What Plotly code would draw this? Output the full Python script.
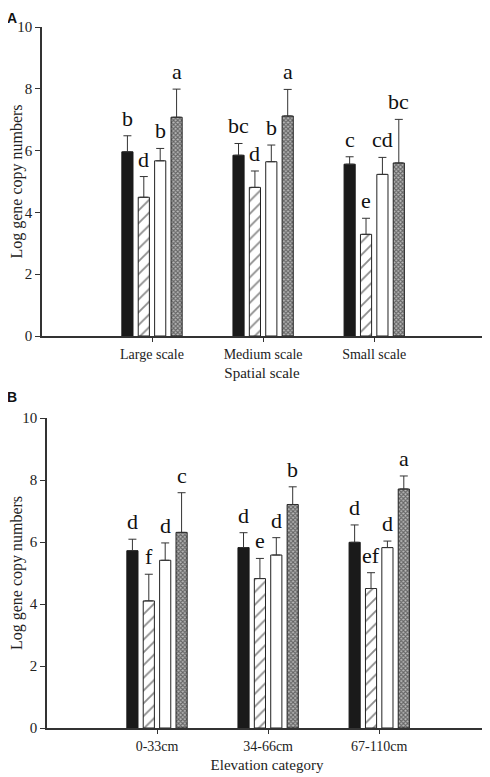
import plotly.graph_objects as go

# ---------------- data ----------------
scale_cats = ["Large scale", "Medium scale", "Small scale"]
elev_cats = ["0-33cm", "34-66cm", "67-110cm"]

# Panel A (spatial scale): four series (black, hatched, white, checked)
a_black = [5.96, 5.85, 5.56]
a_hatch = [4.49, 4.81, 3.29]
a_white = [5.67, 5.64, 5.23]
a_check = [7.08, 7.12, 5.60]
a_black_err = [0.52, 0.38, 0.24]
a_hatch_err = [0.67, 0.53, 0.52]
a_white_err = [0.40, 0.54, 0.55]
a_check_err = [0.91, 0.86, 1.41]
a_black_lab = ["b", "bc", "c"]
a_hatch_lab = ["d", "d", "e"]
a_white_lab = ["b", "b", "cd"]
a_check_lab = ["a", "a", "bc"]

# Panel B (elevation category)
b_black = [5.72, 5.82, 5.99]
b_hatch = [4.10, 4.82, 4.50]
b_white = [5.41, 5.58, 5.82]
b_check = [6.31, 7.21, 7.71]
b_black_err = [0.37, 0.48, 0.56]
b_hatch_err = [0.86, 0.65, 0.51]
b_white_err = [0.56, 0.56, 0.21]
b_check_err = [1.28, 0.57, 0.42]
b_black_lab = ["d", "d", "d"]
b_hatch_lab = ["f", "e", "ef"]
b_white_lab = ["d", "d", "d"]
b_check_lab = ["c", "b", "a"]

y_ticks = [0, 2, 4, 6, 8, 10]

# ---------------- styling ----------------
SERIF = "Liberation Serif"
styles = [
    dict(color="#1a1a1a", line=dict(color="#1a1a1a", width=1)),
    dict(color="white", line=dict(color="#222", width=1),
         pattern=dict(shape="/", fgcolor="#1a1a1a", bgcolor="white", size=9, solidity=0.2)),
    dict(color="white", line=dict(color="#222", width=1)),
    dict(color="white", line=dict(color="#222", width=1),
         pattern=dict(shape="x", fgcolor="#111", bgcolor="#b8b8b8", size=3, solidity=0.6)),
]

fig = go.Figure()

slot = 0.59 / 4
offsets = [(-1.5 + i) * slot for i in range(4)]


def add_panel(cats, series, errs, labels, xa, ya):
    for i, (vals, err, lab) in enumerate(zip(series, errs, labels)):
        fig.add_trace(go.Bar(
            x=cats, y=vals, xaxis=xa, yaxis=ya, showlegend=False,
            marker=styles[i],
            error_y=dict(type="data", array=err, arrayminus=[0] * len(err),
                         symmetric=False, color="#333", thickness=1, width=4),
        ))
        for j in range(len(cats)):
            fig.add_annotation(
                x=j + offsets[i], y=vals[j] + err[j], xref=xa, yref=ya,
                text=lab[j], showarrow=False, yanchor="bottom", yshift=3,
                font=dict(family=SERIF, size=22, color="#111"),
            )


add_panel(scale_cats, [a_black, a_hatch, a_white, a_check],
          [a_black_err, a_hatch_err, a_white_err, a_check_err],
          [a_black_lab, a_hatch_lab, a_white_lab, a_check_lab], "x", "y")
add_panel(elev_cats, [b_black, b_hatch, b_white, b_check],
          [b_black_err, b_hatch_err, b_white_err, b_check_err],
          [b_black_lab, b_hatch_lab, b_white_lab, b_check_lab], "x2", "y2")

# page body has an 8px margin: the figure occupies page pixels 8..490 / 8..777
OFF = 8
W, H = 490 - OFF, 777 - OFF


def px_x(p):
    return (p - OFF) / W


def px_y(p):
    return 1 - (p - OFF) / H


xcommon = dict(
    type="category", range=[-0.99, 2.97], showline=True, linecolor="#333", linewidth=1.5,
    ticks="outside", ticklen=4, tickcolor="#333", showgrid=False, zeroline=False,
    tickfont=dict(family=SERIF, size=14, color="#222"), automargin=False,
    title_font=dict(family=SERIF, size=15, color="#222"), title_standoff=7,
)
ycommon = dict(
    range=[0, 10], tickvals=y_ticks, showline=True, linecolor="#333", linewidth=1.5,
    ticks="outside", ticklen=5, tickcolor="#333", showgrid=False, zeroline=False,
    tickfont=dict(family=SERIF, size=15, color="#222"), automargin=False,
    title_font=dict(family=SERIF, size=16, color="#222"), title_standoff=2,
)

fig.update_layout(
    width=W, height=H, margin=dict(l=0, r=0, t=0, b=0),
    paper_bgcolor="white", plot_bgcolor="white",
    barmode="group", bargap=0.41, bargroupgap=0.32,
    xaxis=dict(xcommon, domain=[px_x(42), px_x(482)], anchor="y",
               title_text="Spatial scale"),
    yaxis=dict(ycommon, domain=[px_y(336), px_y(27)], anchor="x",
               title_text="Log gene copy numbers"),
    xaxis2=dict(xcommon, domain=[px_x(47), px_x(487)], anchor="y2",
                title_text="Elevation category"),
    yaxis2=dict(ycommon, domain=[px_y(728), px_y(418)], anchor="x2",
                title_text="Log gene copy numbers"),
)

fig.add_annotation(x=px_x(11.5), y=1, xref="paper", yref="paper", text="<b>A</b>",
                   xanchor="center", yanchor="top",
                   showarrow=False, font=dict(family="Liberation Sans", size=14, color="#111"))
fig.add_annotation(x=px_x(11.5), y=px_y(397), xref="paper", yref="paper", text="<b>B</b>",
                   xanchor="center", yanchor="middle",
                   showarrow=False, font=dict(family="Liberation Sans", size=14, color="#111"))

fig.write_html("out.html")
